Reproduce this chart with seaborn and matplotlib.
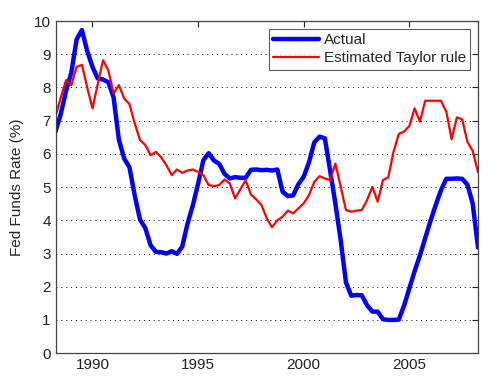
import numpy as np
import pandas as pd
import matplotlib
matplotlib.use("Agg")
import matplotlib.pyplot as plt
import seaborn as sns

# quarterly data, 1988Q1 .. 2008Q1 (plotted at year + q/4)
quarters = 1988.25 + np.arange(81) / 4.0

actual = [
    6.67, 7.20, 7.90, 8.45,
    9.45, 9.73, 9.10, 8.62,
    8.27, 8.24, 8.16, 7.70,
    6.43, 5.86, 5.60, 4.75,
    4.02, 3.77, 3.25, 3.05,
    3.04, 3.00, 3.07, 2.99,
    3.21, 3.90, 4.45, 5.10,
    5.81, 6.02, 5.80, 5.70,
    5.40, 5.26, 5.30, 5.28,
    5.28, 5.52, 5.53, 5.51,
    5.52, 5.50, 5.53, 4.86,
    4.73, 4.75, 5.09, 5.31,
    5.75, 6.35, 6.52, 6.47,
    5.50, 4.50, 3.40, 2.13,
    1.73, 1.75, 1.74, 1.44,
    1.25, 1.25, 1.02, 1.00,
    1.00, 1.01, 1.43, 1.95,
    2.47, 2.94, 3.46, 3.98,
    4.46, 4.91, 5.25, 5.25,
    5.26, 5.25, 5.07, 4.50,
    3.18,
]

taylor = [
    7.12, 7.70, 8.22, 8.07,
    8.62, 8.68, 8.00, 7.37,
    8.10, 8.82, 8.52, 7.82,
    8.07, 7.67, 7.50, 6.92,
    6.42, 6.27, 5.96, 6.06,
    5.90, 5.66, 5.36, 5.53,
    5.43, 5.50, 5.53, 5.46,
    5.36, 5.06, 5.03, 5.06,
    5.23, 5.11, 4.66, 4.93,
    5.21, 4.78, 4.63, 4.46,
    4.06, 3.79, 4.00, 4.11,
    4.29, 4.21, 4.36, 4.51,
    4.76, 5.16, 5.33, 5.26,
    5.21, 5.71, 5.01, 4.31,
    4.26, 4.29, 4.31, 4.61,
    5.01, 4.56, 5.21, 5.29,
    6.06, 6.60, 6.67, 6.84,
    7.37, 6.97, 7.60, 7.60,
    7.60, 7.60, 7.27, 6.44,
    7.10, 7.04, 6.36, 6.09,
    5.45,
]

series_names = ["Actual", "Estimated Taylor rule"]
x_ticks = [1990, 1995, 2000, 2005]
y_ticks = list(range(0, 11))

df = pd.DataFrame({
    "year": np.concatenate([quarters, quarters]),
    "rate": actual + taylor,
    "series": [series_names[0]] * len(actual) + [series_names[1]] * len(taylor),
})

sns.set_style("white")
plt.rcParams["font.family"] = ["Liberation Sans", "DejaVu Sans"]

fig = plt.figure(figsize=(5.0, 3.83), dpi=100)
ax = fig.add_axes([0.111, 0.078, 0.845, 0.867])

sns.lineplot(data=df, x="year", y="rate", hue="series",
             palette={"Actual": "#0000ff", "Estimated Taylor rule": "#ff0000"},
             ax=ax, legend=False)
ax.lines[0].set_linewidth(3.2)
ax.lines[1].set_linewidth(1.6)

ax.set_xlim(1988.25, 2008.25)
ax.set_ylim(0, 10)
ax.set_xticks(x_ticks)
ax.set_yticks(y_ticks)
ax.set_xlabel("")
ax.set_ylabel("Fed Funds Rate (%)", fontsize=11)
ax.yaxis.set_label_coords(-0.075, 0.5)

ax.grid(axis="y", linestyle=(0, (1, 4)), color="black", linewidth=0.7)
ax.grid(axis="x", visible=False)
ax.tick_params(direction="in", length=4, width=0.8, top=True, right=True,
               labelsize=11, colors="#222222")
for side in ax.spines.values():
    side.set_visible(True)
    side.set_color("#444444")
    side.set_linewidth(0.9)

leg = ax.legend(ax.lines[:2], series_names, loc="upper right",
                fontsize=11, frameon=True, fancybox=False, handlelength=3.0,
                borderaxespad=0.5, borderpad=0.3, labelspacing=0.25,
                handletextpad=0.3)
leg.get_frame().set_edgecolor("#333333")
leg.get_frame().set_linewidth(0.8)

fig.savefig("out.png", dpi=100)
